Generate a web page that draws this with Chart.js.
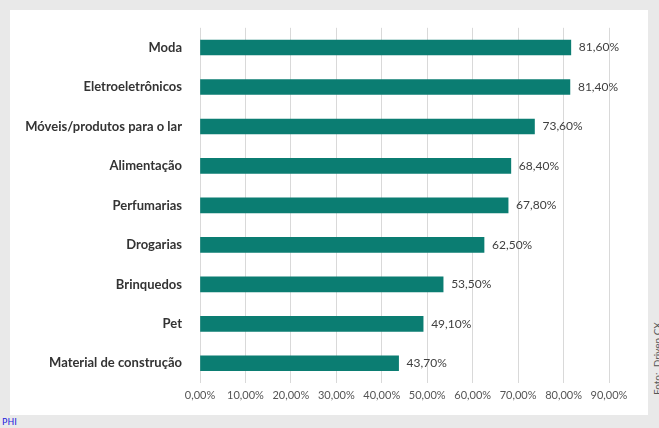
<!DOCTYPE html>
<html><head><meta charset="utf-8">
<script src="https://cdn.jsdelivr.net/npm/chart.js@4"></script>
<style>
body{margin:0;background:#e9e9e9;width:659px;height:428px;position:relative;overflow:hidden;font-family:Lato,sans-serif}
#box{position:absolute;left:10px;top:10px;width:638px;height:405px;background:#fff}
#foto{position:absolute;left:651px;top:395px;transform-origin:0 0;transform:rotate(-90deg);font-size:10px;color:#555;white-space:nowrap}
#phi{position:absolute;left:2px;top:417px;font-size:9px;color:#2222dd;font-family:"DejaVu Sans",sans-serif}
</style></head>
<body>
<div id="box"><canvas id="c" width="638" height="405"></canvas></div>
<div id="foto">Foto:&nbsp; Driven CX</div>
<div id="phi">PHI</div>
<script>
const categories = ['Moda','Eletroeletrônicos','Móveis/produtos para o lar','Alimentação','Perfumarias','Drogarias','Brinquedos','Pet','Material de construção'];
const values = [81.6,81.4,73.6,68.4,67.8,62.5,53.5,49.1,43.7];
const fmt = v => v.toFixed(2).replace('.', ',') + '%';

const valueLabels = {
    id: 'valueLabels',
    afterDatasetsDraw(chart) {
        const ctx = chart.ctx;
        const meta = chart.getDatasetMeta(0);
        ctx.save();
        ctx.font = '12px Lato';
        ctx.fillStyle = '#404040';
        ctx.textBaseline = 'middle';
        meta.data.forEach((bar, i) => {
            ctx.fillText(fmt(values[i]), bar.x + 8, bar.y);
        });
        ctx.restore();
    }
};

new Chart(document.getElementById('c'), {
    type: 'bar',
    data: {
        labels: categories,
        datasets: [{ data: values, backgroundColor: '#0b7d72', barThickness: 15 }]
    },
    options: {
        indexAxis: 'y',
        responsive: false,
        animation: false,
        layout: { padding: { top: 13, right: 39, left: 0, bottom: 0 } },
        plugins: { legend: { display: false }, tooltip: { enabled: false } },
        scales: {
            x: {
                min: 0, max: 90,
                ticks: { stepSize: 10, callback: v => fmt(v), color: '#555', font: { family: 'Lato', size: 11 }, padding: 6 },
                grid: { color: '#d9d9d9', drawTicks: false },
                border: { display: false },
                afterFit: s => { s.height = 32; }
            },
            y: {
                ticks: { color: '#333', font: { family: 'Lato', size: 13, weight: 'bold' }, padding: 10 },
                grid: { display: false },
                border: { display: false },
                afterFit: s => { s.width = 190; }
            }
        }
    },
    plugins: [valueLabels]
});
</script>
</body></html>
